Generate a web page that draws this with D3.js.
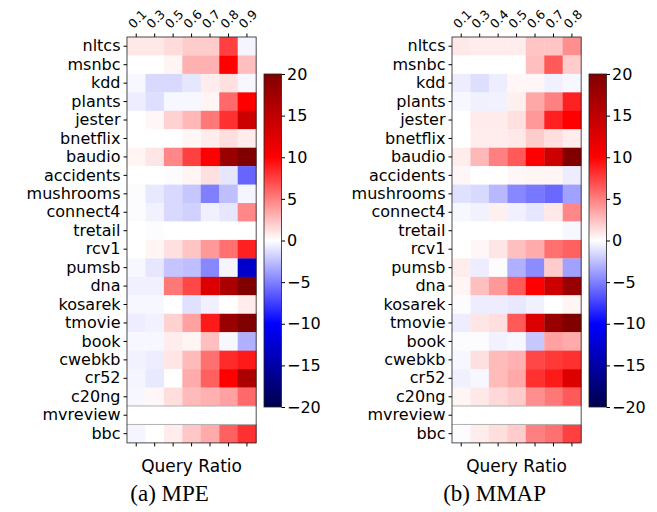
<!DOCTYPE html>
<html>
<head>
<meta charset="utf-8">
<script src="https://cdn.jsdelivr.net/npm/d3@7"></script>
<style>
  body { margin: 0; background: #fff; }
  text { font-family: "DejaVu Sans", sans-serif; }
</style>
</head>
<body>
<svg id="chart" width="657" height="512"></svg>
<script>
var datasets = ["nltcs", "msnbc", "kdd", "plants", "jester", "bnetflix", "baudio", "accidents",
  "mushrooms", "connect4", "tretail", "rcv1", "pumsb", "dna", "kosarek", "tmovie", "book",
  "cwebkb", "cr52", "c20ng", "mvreview", "bbc"];

var mpeRatios = ["0.1", "0.3", "0.5", "0.6", "0.7", "0.8", "0.9"];
var mmapRatios = ["0.1", "0.3", "0.4", "0.5", "0.6", "0.7", "0.8"];

// rows follow datasets, null = no result
var mpeValues = [
  [0.9, 0.9, 1.4, 2.0, 2.0, 7.5, -0.4],
  [0, 0, 0.4, 3.1, 3.1, 10, 2.5],
  [-0.3, -1.5, -1.5, -1.0, 0.7, 1.2, -0.3],
  [-0.7, -1.3, -0.3, -0.3, 0.4, 5.9, 10],
  [0, 0.3, 1.8, 2.8, 5.3, 8.1, 14],
  [0, 0, 0, 0.3, 0.7, 1.3, 0.7],
  [0.4, 1.0, 4.7, 7.5, 10, 18, 20],
  [0, 0, -0.1, 0.4, 1.2, -1.0, -6],
  [-0.1, -0.9, -1.5, -2.2, -5, -2.5, -0.4],
  [-0.1, -0.5, -1.5, -1.8, -0.6, -1.0, 4.7],
  [0, -0.1, 0, 0, 0, 0, 0],
  [0, 0.4, 1.2, 2.3, 4.0, 5.6, 8.7],
  [-0.3, -1.0, -2.3, -2.5, -4.7, -0.4, -12.9],
  [-0.6, -0.6, 5.3, 7.2, 12.7, 16.7, 20],
  [-0.3, -0.3, 0, -1.2, -0.6, 0, 0.7],
  [-0.7, -0.5, 1.8, 3.7, 9, 18, 20],
  [-0.3, -0.3, 0.7, 0.4, 2.5, -0.3, -3.1],
  [-0.5, -0.7, 1.0, 2.7, 5.6, 8.3, 9],
  [-0.4, -0.9, 0, 3.3, 6.2, 10, 16.7],
  [-0.3, 0.3, 1.3, 2.7, 3.1, 3.7, 5.9],
  [null, null, null, null, null, null, null],
  [-0.4, 0, 0.7, 2.2, 3.3, 6.2, 8.1]
];

var mmapValues = [
  [0.9, 0.7, 0.7, 0.7, 2.3, 2.3, 4.4],
  [0, 0, 0, 0, 2.5, 6.5, 2.0],
  [-0.7, -1.3, -0.7, 0.3, 0.3, -0.6, -0.3],
  [-0.3, -0.6, -0.5, 0.6, 3.4, 5.0, 8.7],
  [0, 0.8, 0.8, 1.2, 4.0, 8.7, 10],
  [0, 0.7, 0.7, 0.9, 2.0, 1.3, 0.7],
  [0.7, 2.8, 5.0, 6.5, 10, 14, 20],
  [0.3, 0, 0, 0.3, 0.4, 0.4, -0.7],
  [-1.2, -1.5, -2.8, -4.7, -5.3, -5.9, -3.7],
  [-0.3, -0.5, 0.6, -0.6, -1.0, 0.9, 4.7],
  [0, 0, 0, 0, 0, 0, -0.3],
  [0, 0.3, 1.0, 2.5, 3.3, 5.6, 6.2],
  [0.7, -0.7, -0.1, -3.1, -4.5, 2.0, -3.7],
  [0.4, 2.5, 4.0, 6.5, 10, 14, 18],
  [-0.1, -0.7, -0.7, -0.9, -0.6, 0, 0.4],
  [-0.7, 1.0, 1.3, 6.5, 12.7, 18, 20],
  [-0.1, -0.1, -0.5, -0.3, -2.2, 3.7, 3.3],
  [-0.3, 1.2, 2.7, 3.1, 7.2, 7.8, 8.1],
  [-0.6, -0.3, 2.7, 3.4, 8.1, 9, 12.7],
  [0.4, 0.9, 1.5, 2.0, 4.4, 5.3, 6.5],
  [null, null, null, null, null, null, null],
  [-0.1, 0.7, 1.3, 2.0, 5.0, 5.6, 7.5]
];

var colorTicks = [20, 15, 10, 5, 0, -5, -10, -15, -20];

var svg = d3.select("#chart");

// matplotlib "seismic"
var seismic = d3.scaleLinear()
  .domain([-20, -10, 0, 10, 20])
  .range(["rgb(0,0,77)", "rgb(0,0,255)", "rgb(255,255,255)", "rgb(255,0,0)", "rgb(128,0,0)"])
  .clamp(true);

var cell = 18.45;
var mapTop = 37;

function drawPanel(x0, ratios, values, cbX, caption) {
  var g = svg.append("g");
  var x = d3.scaleBand().domain(ratios).range([x0, x0 + cell * ratios.length]);
  var y = d3.scaleBand().domain(datasets).range([mapTop, mapTop + cell * datasets.length]);

  datasets.forEach(function (name, i) {
    g.selectAll(null)
      .data(values[i])
      .enter()
      .append("rect")
      .attr("x", (d, j) => x(ratios[j]))
      .attr("y", y(name))
      .attr("width", x.bandwidth() + 0.3)
      .attr("height", y.bandwidth() + 0.3)
      .style("fill", (d) => d == null ? "#fff" : seismic(d));
  });

  // empty row edges
  datasets.forEach(function (name, i) {
    if (values[i].every((d) => d == null)) {
      [y(name), y(name) + y.bandwidth()].forEach(function (yy) {
        g.append("line")
          .attr("x1", x.range()[0]).attr("x2", x.range()[1])
          .attr("y1", yy).attr("y2", yy)
          .style("stroke", "#b0b0b0").style("stroke-width", 1);
      });
    }
  });

  g.append("rect")
    .attr("x", x.range()[0]).attr("y", y.range()[0])
    .attr("width", x.range()[1] - x.range()[0])
    .attr("height", y.range()[1] - y.range()[0])
    .style("fill", "none").style("stroke", "#222").style("stroke-width", 0.8);

  // row labels
  var yAxis = g.append("g")
    .attr("transform", `translate(${x0},0)`)
    .call(d3.axisLeft(y).tickSize(3.5).tickPadding(3));
  yAxis.select(".domain").remove();
  yAxis.selectAll("text").style("font-size", "16px").style("fill", "#000");

  // top tick labels, rotated
  var topAxis = g.append("g")
    .attr("transform", `translate(0,${mapTop})`)
    .call(d3.axisTop(x).tickSize(3.5).tickFormat(""));
  topAxis.select(".domain").remove();
  g.selectAll(".topLabel")
    .data(ratios)
    .enter()
    .append("text")
    .attr("class", "topLabel")
    .attr("transform", (d) => `translate(${x(d) + x.bandwidth() / 2 + 1},${mapTop - 18}) rotate(-45)`)
    .attr("text-anchor", "middle")
    .attr("dominant-baseline", "central")
    .style("font-size", "12.5px")
    .text((d) => d);

  var bottomAxis = g.append("g")
    .attr("transform", `translate(0,${y.range()[1]})`)
    .call(d3.axisBottom(x).tickSize(3.5).tickFormat(""));
  bottomAxis.select(".domain").remove();

  var cx = (x.range()[0] + x.range()[1]) / 2;
  g.append("text")
    .attr("x", cx).attr("y", 472)
    .attr("text-anchor", "middle")
    .style("font-size", "17px")
    .text("Query Ratio");

  g.append("text")
    .attr("x", cx - 22).attr("y", 501)
    .attr("text-anchor", "middle")
    .style("font-family", "'Liberation Serif', 'Times New Roman', serif")
    .style("font-size", "23px")
    .text(caption);

  // colorbar
  var cy = d3.scaleLinear().domain([-20, 20]).range([407, 74]);
  var gradId = "grad" + cbX;
  var grad = svg.append("defs").append("linearGradient")
    .attr("id", gradId)
    .attr("x1", 0).attr("y1", 1).attr("x2", 0).attr("y2", 0);
  seismic.domain().forEach(function (v) {
    grad.append("stop")
      .attr("offset", (v + 20) / 40)
      .attr("stop-color", seismic(v));
  });
  g.append("rect")
    .attr("x", cbX).attr("y", cy(20))
    .attr("width", 17.5).attr("height", cy(-20) - cy(20))
    .style("fill", `url(#${gradId})`)
    .style("stroke", "#222").style("stroke-width", 0.8);
  var cAxis = g.append("g")
    .attr("transform", `translate(${cbX + 17.5},0)`)
    .call(d3.axisRight(cy).tickValues(colorTicks).tickSize(3.5).tickPadding(2)
      .tickFormat((d) => d < 0 ? "\u2212" + Math.abs(d) : d));
  cAxis.select(".domain").remove();
  cAxis.selectAll("text").style("font-size", "16px").style("fill", "#000");
}

drawPanel(127, mpeRatios, mpeValues, 264, "(a) MPE");
drawPanel(452, mmapRatios, mmapValues, 589, "(b) MMAP");
</script>
</body>
</html>
